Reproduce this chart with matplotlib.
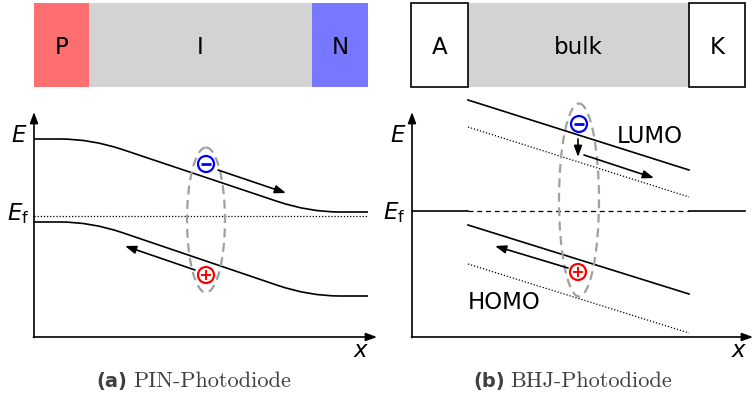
import matplotlib
matplotlib.use("Agg")
import matplotlib.pyplot as plt
from matplotlib.patches import Rectangle, Ellipse, Circle, PathPatch
from matplotlib.path import Path

plt.rcParams['mathtext.fontset'] = 'dejavusans'
plt.rcParams['font.family'] = ['DejaVu Sans']

# ---------------- data (pixel coordinates of the schematic) ----------------
# Panel (a): PIN layers
pin_labels = ['P', 'I', 'N']
pin_edges = [34, 89, 312, 368]
pin_colors = ['#ff6f6f', '#d3d3d3', '#7777ff']
# Panel (b): BHJ layers
bhj_labels = ['A', 'bulk', 'K']
bhj_edges = [411, 468, 689, 745]
bhj_colors = ['white', '#d3d3d3', 'white']
bar_top, bar_bottom = 3, 87

# PIN band levels (left level, right level) and knee positions
pin_cb = [139, 212]
pin_vb = [222, 296]
pin_ef = 216
pin_knees = [60, 91, 122, 278, 309, 340]

# BHJ band lines: (x0, y0, x1, y1)
bhj_lumo = [468, 100, 689, 170]
bhj_lumo_dot = [468, 127, 689, 197]
bhj_homo = [468, 225, 689, 294]
bhj_homo_dot = [468, 264, 689, 333]
bhj_ef = 211

# axes origins
axis_a = [34, 337, 112, 377]   # x0, y0, ytop, xend
axis_b = [412, 337, 112, 753]

# excitons: ellipse center, width, height ; electron, hole centres
exc_a = [206, 220, 38, 145]
exc_b = [579, 200, 40, 193]
elec_a, hole_a = [206, 164], [206, 275]
elec_b, hole_b = [579, 124], [578, 272]
arrows_a = [[218, 170, 286, 193], [195, 270, 125, 246]]
arrows_b = [[584, 155, 654, 178], [568, 268, 495, 246], [578, 139, 578, 157]]

# ---------------- figure ----------------
fig = plt.figure(figsize=(7.54, 3.98), dpi=100)
ax = fig.add_axes([0, 0, 1, 1])
ax.set_xlim(0, 754)
ax.set_ylim(398, 0)
ax.axis('off')

LW = 1.2
FS = 16.5

# layer bars
for lab, x0, x1, c in zip(pin_labels, pin_edges[:-1], pin_edges[1:], pin_colors):
    ax.add_patch(Rectangle((x0, bar_top), x1 - x0, bar_bottom - bar_top, facecolor=c, edgecolor='none'))
    ax.text((x0 + x1) / 2, (bar_top + bar_bottom) / 2, lab, ha='center', va='center_baseline', fontsize=FS)
for lab, x0, x1, c in zip(bhj_labels, bhj_edges[:-1], bhj_edges[1:], bhj_colors):
    ec = 'none' if lab == 'bulk' else 'black'
    ax.add_patch(Rectangle((x0, bar_top), x1 - x0, bar_bottom - bar_top, facecolor=c, edgecolor=ec, lw=LW,
                           zorder=2 if ec == 'black' else 1))
    ax.text((x0 + x1) / 2, (bar_top + bar_bottom) / 2, lab, ha='center', va='center_baseline', fontsize=FS, zorder=3)


def arrow(x0, y0, x1, y1, ms=11):
    ax.annotate('', xy=(x1, y1), xytext=(x0, y0),
                arrowprops=dict(arrowstyle='-|>,head_length=0.6,head_width=0.22', lw=LW, color='black',
                                shrinkA=0, shrinkB=0, mutation_scale=ms), zorder=5)


# coordinate axes
for (x0, y0, yt, xe), xlab_x in [(axis_a, 361), (axis_b, 739)]:
    arrow(x0, y0 + 0.5, x0, yt)
    arrow(x0 - 0.5, y0, xe, y0)
    ax.text(xlab_x, 357, '$x$', ha='center', va='baseline', fontsize=FS)

ax.text(19, 142, '$E$', ha='center', va='baseline', fontsize=FS)
ax.text(18, 220, r'$E_\mathrm{f}$', ha='center', va='baseline', fontsize=FS)
ax.text(398, 142, '$E$', ha='center', va='baseline', fontsize=FS)
ax.text(394, 219, r'$E_\mathrm{f}$', ha='center', va='baseline', fontsize=FS)

# PIN bands (smooth via bezier)
def band_path(yl, yr):
    k = pin_knees
    verts = [(pin_edges[0], yl), (k[0], yl), (k[1], yl),
             (k[2], yl + (yr - yl) * (k[2] - k[1]) / (k[4] - k[1])),
             (k[3], yl + (yr - yl) * (k[3] - k[1]) / (k[4] - k[1])), (k[4], yr), (k[5], yr),
             (pin_edges[-1], yr)]
    codes = [Path.MOVETO, Path.LINETO, Path.CURVE3, Path.CURVE3, Path.LINETO, Path.CURVE3, Path.CURVE3, Path.LINETO]
    return Path(verts, codes)

for yl, yr in [pin_cb, pin_vb]:
    ax.add_patch(PathPatch(band_path(yl, yr), facecolor='none', edgecolor='black', lw=LW, zorder=3))
ax.plot([pin_edges[0], pin_edges[-1]], [pin_ef, pin_ef], color='black', lw=0.9, ls=(0, (1, 1.5)), zorder=3)

# BHJ bands
for seg, ls in [(bhj_lumo, '-'), (bhj_homo, '-'), (bhj_lumo_dot, (0, (1, 1.5))), (bhj_homo_dot, (0, (1, 1.5)))]:
    ax.plot([seg[0], seg[2]], [seg[1], seg[3]], color='black', lw=LW if ls == '-' else 0.9, ls=ls, zorder=3)
ax.plot([axis_b[0], bhj_edges[1]], [bhj_ef, bhj_ef], color='black', lw=LW, zorder=3)
ax.plot([bhj_edges[1], bhj_edges[2]], [bhj_ef, bhj_ef], color='black', lw=0.9, ls=(0, (4, 3)), zorder=3)
ax.plot([bhj_edges[2], bhj_edges[3]], [bhj_ef, bhj_ef], color='black', lw=LW, zorder=3)
ax.text(650, 143, 'LUMO', ha='center', va='baseline', fontsize=FS)
ax.text(504, 309, 'HOMO', ha='center', va='baseline', fontsize=FS)

# excitons
for (cx, cy, w, h), el, ho in [(exc_a, elec_a, hole_a), (exc_b, elec_b, hole_b)]:
    ax.add_patch(Ellipse((cx, cy), w, h, facecolor='none', edgecolor='#a0a0a0', lw=1.6,
                         ls=(0, (4, 2.5)), zorder=4))
    ax.add_patch(Circle(el, 8, facecolor='white', edgecolor='#0000ff', lw=1.6, zorder=6))
    ax.plot([el[0] - 5, el[0] + 5], [el[1], el[1]], color='#0000ff', lw=2, zorder=7, solid_capstyle='butt')
    ax.add_patch(Circle(ho, 8, facecolor='white', edgecolor='#ff0000', lw=1.6, zorder=6))
    ax.plot([ho[0] - 5, ho[0] + 5], [ho[1], ho[1]], color='#ff0000', lw=1.4, zorder=7, solid_capstyle='butt')
    ax.plot([ho[0], ho[0]], [ho[1] - 5, ho[1] + 5], color='#ff0000', lw=1.4, zorder=7, solid_capstyle='butt')

for a in arrows_a + arrows_b:
    arrow(*a)

# captions
cap_col = '#404040'
ax.text(96, 387, '(a)', ha='left', va='baseline', fontsize=14, fontweight='bold', color=cap_col)
ax.text(133, 387, 'PIN-Photodiode', ha='left', va='baseline', fontsize=16, family='cmr10', color=cap_col)
ax.text(473, 387, '(b)', ha='left', va='baseline', fontsize=14, fontweight='bold', color=cap_col)
ax.text(510, 387, 'BHJ-Photodiode', ha='left', va='baseline', fontsize=16, family='cmr10', color=cap_col)

fig.savefig('out.png', dpi=100)
